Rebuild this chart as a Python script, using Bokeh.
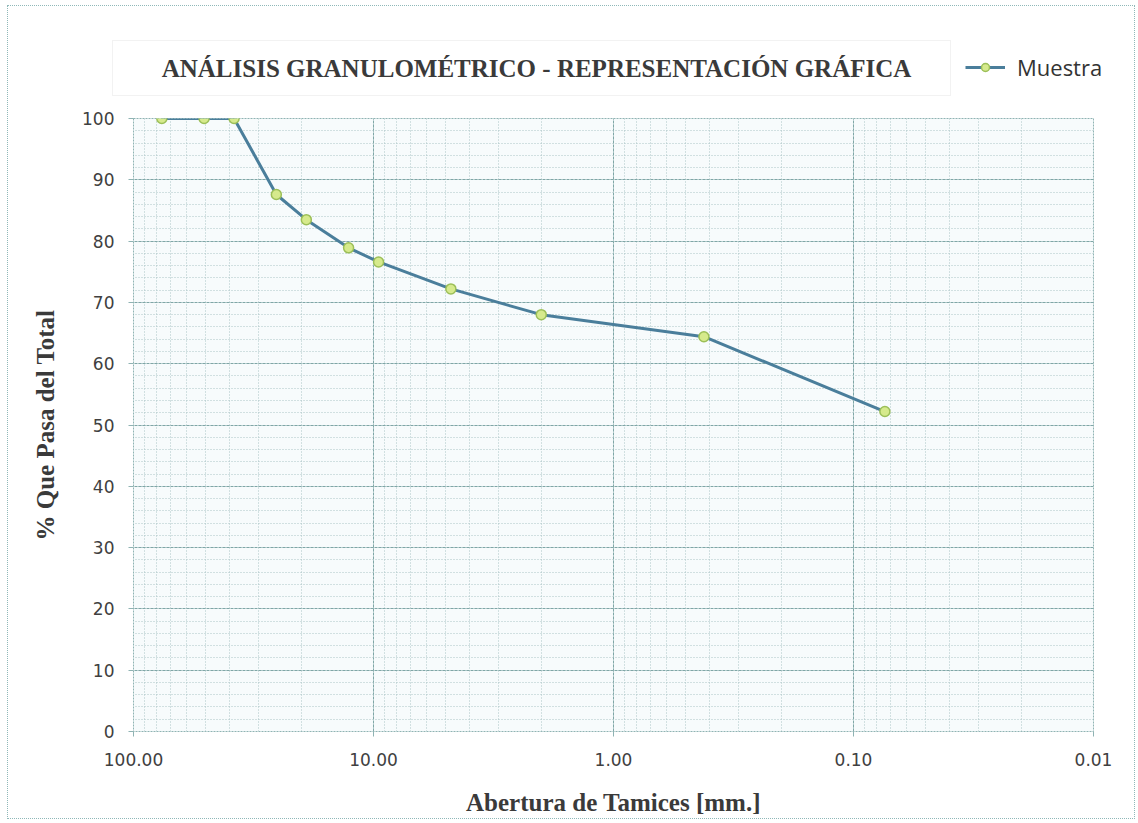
from bokeh.plotting import figure
from bokeh.layouts import column
from bokeh.models import (Range1d, FixedTicker, CustomJSTickFormatter, Label,
                          BoxAnnotation, Legend, LegendItem, ColumnDataSource)
from bokeh.embed import file_html
from bokeh.resources import INLINE

# Data
abertura_mm = [76.2, 50.8, 38.1, 25.4, 19.05, 12.7, 9.525, 4.76, 2.0, 0.42, 0.074]
pct_pasa = [100.0, 100.0, 100.0, 87.6, 83.5, 78.9, 76.6, 72.2, 68.0, 64.4, 52.2]
x_ticks = [100, 10, 1, 0.1, 0.01]
y_ticks = list(range(0, 101, 10))
y_minor = list(range(0, 101, 2))
x_minor = [k * 10.0 ** e for e in range(-2, 2) for k in range(1, 10)]

title_text = "ANÁLISIS GRANULOMÉTRICO - REPRESENTACIÓN GRÁFICA"
series_name = "Muestra"

LINE_COLOR = "#4a7e9b"
MK_FILL = "#d6ea8c"
MK_LINE = "#9cbf58"

W = 1126
HH = 100   # header height
MH = 712   # main figure height

src = ColumnDataSource(dict(x=abertura_mm, y=pct_pasa))

# ---------- header: title box + legend ----------
hdr = figure(width=W, height=HH, output_backend="svg", toolbar_location=None,
             x_range=Range1d(0, 1), y_range=Range1d(0, 1),
             x_axis_location=None, y_axis_location=None,
             min_border=0, min_border_left=0, min_border_right=0,
             min_border_top=0, min_border_bottom=0)
hdr.frame_align = False
hdr.grid.visible = False
hdr.outline_line_color = None
hdr.background_fill_color = "white"
hdr.border_fill_color = "white"

box = BoxAnnotation(left=104, right=942, bottom=11, top=66,
                    left_units="screen", right_units="screen",
                    bottom_units="screen", top_units="screen",
                    fill_color="white", fill_alpha=1.0,
                    line_color="#a8a8a8", line_dash="1 1", line_width=1)
hdr.add_layout(box)
hdr.add_layout(Label(x=528, y=38, x_units="screen", y_units="screen",
                     text=title_text, text_font="Liberation Serif",
                     text_font_style="bold", text_font_size="25px",
                     text_color="#3a3a3a", text_align="center",
                     text_baseline="middle"))

# legend proxies: same series, but outside the header's (0..1) view, so only
# their legend glyphs show
lg_ln = hdr.line("x", "y", source=src, line_color=LINE_COLOR, line_width=3)
lg_sc = hdr.scatter("x", "y", source=src, size=10, fill_color=MK_FILL,
                    line_color=MK_LINE, line_width=1.5)
legend = Legend(items=[LegendItem(label=series_name, renderers=[lg_ln, lg_sc])],
                location=(955, 22), border_line_alpha=0, background_fill_alpha=0,
                label_text_font="Open Sans", label_text_font_size="22px",
                label_text_color="#333333", glyph_width=40, padding=2, margin=0,
                label_standoff=12)
hdr.add_layout(legend)

# ---------- main chart ----------
p = figure(width=W, height=MH, output_backend="svg", toolbar_location=None,
           x_axis_type="log", x_range=Range1d(100, 0.01), y_range=Range1d(0, 100),
           min_border_left=125, min_border_right=41, min_border_top=12,
           min_border_bottom=87)
p.frame_align = False
p.background_fill_color = "#f7fbfc"
p.border_fill_color = "white"
p.outline_line_color = "#8fb3b3"
p.outline_line_dash = "2 1"

p.xaxis.ticker = FixedTicker(ticks=x_ticks, minor_ticks=x_minor)
p.yaxis.ticker = FixedTicker(ticks=y_ticks, minor_ticks=y_minor)
p.xaxis.formatter = CustomJSTickFormatter(code="return tick.toFixed(2);")

for ax in (p.xaxis[0], p.yaxis[0]):
    ax.axis_line_color = None
    ax.major_tick_line_color = "#8fb3b3"
    ax.major_tick_out = 5
    ax.major_tick_in = 0
    ax.minor_tick_line_color = None
    ax.major_label_text_font = "DejaVu Sans"
    ax.major_label_text_font_size = "17px"
    ax.major_label_text_color = "#404040"
    ax.axis_label_text_font = "Liberation Serif"
    ax.axis_label_text_font_style = "bold"
    ax.axis_label_text_font_size = "25px"
    ax.axis_label_text_color = "#3a3a3a"

p.xaxis.axis_label = "Abertura de Tamices [mm.]"
p.yaxis.axis_label = "% Que Pasa del Total"
p.xaxis.major_label_standoff = 16
p.xaxis.axis_label_standoff = 20
p.yaxis.major_label_standoff = 14
p.yaxis.axis_label_standoff = 20

for g in (p.xgrid[0], p.ygrid[0]):
    g.grid_line_color = "#7fa6a6"
    g.grid_line_dash = "3 1"
    g.grid_line_width = 1
    g.minor_grid_line_color = "#aac4c6"
    g.minor_grid_line_dash = "1 2"
    g.minor_grid_line_width = 1

p.line("x", "y", source=src, line_color=LINE_COLOR, line_width=3)
p.scatter("x", "y", source=src, size=10, fill_color=MK_FILL,
          line_color=MK_LINE, line_width=1.5)

layout = column(hdr, p, spacing=0,
                styles={"border": "1px dotted #8fb8b8", "margin": "5px 0 0 7px"})

open("out.html", "w").write(file_html(layout, INLINE))
